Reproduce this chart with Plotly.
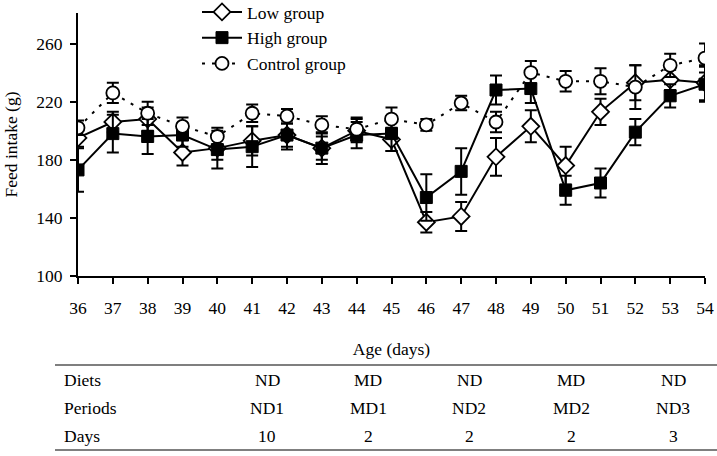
import plotly.graph_objects as go

days = list(range(36, 55))

low_mean = [195, 206, 208, 185, 188, 193, 197, 188, 200, 194, 137, 141, 182, 203, 176, 213, 233, 235, 233]
low_err = [6, 7, 8, 9, 8, 10, 8, 8, 8, 8, 7, 10, 13, 11, 13, 9, 12, 7, 12]

high_mean = [173, 198, 196, 197, 187, 189, 197, 188, 197, 198, 154, 172, 228, 229, 159, 164, 199, 224, 232]
high_err = [15, 13, 12, 8, 13, 14, 10, 11, 9, 12, 16, 16, 10, 10, 10, 10, 9, 8, 12]

ctrl_mean = [202, 226, 212, 203, 196, 212, 210, 204, 201, 208, 204, 219, 206, 240, 234, 234, 230, 245, 250]
ctrl_err = [5, 7, 8, 6, 6, 6, 5, 6, 8, 8, 4, 5, 7, 8, 7, 9, 15, 8, 10]

y_ticks = [100, 140, 180, 220, 260]

table_rows = ["Diets", "Periods", "Days"]
diets = ["ND", "MD", "ND", "MD", "ND"]
periods = ["ND1", "MD1", "ND2", "MD2", "ND3"]
period_days = ["10", "2", "2", "2", "3"]

FONT = "Liberation Serif"
W, H = 717, 456
ML, MR, MT, MB = 78, 12, 13, 180
PW = W - ML - MR
PH = H - MT - MB


def px_to_paper_x(px):
    return (px - ML) / PW


def px_to_paper_y(py):
    return (H - MB - py) / PH


fig = go.Figure()

err_style = dict(type="data", visible=True, thickness=2, width=6, color="black")

fig.add_trace(go.Scatter(
    x=days, y=low_mean, name="Low group", mode="lines+markers",
    line=dict(color="black", width=2),
    marker=dict(symbol="diamond", size=13, color="white", line=dict(color="black", width=1.8)),
    error_y=dict(array=low_err, **err_style),
))
fig.add_trace(go.Scatter(
    x=days, y=high_mean, name="High group", mode="lines+markers",
    line=dict(color="black", width=2),
    marker=dict(symbol="square", size=12, color="black", line=dict(color="black", width=1)),
    error_y=dict(array=high_err, **err_style),
))
fig.add_trace(go.Scatter(
    x=days, y=ctrl_mean, name="Control group", mode="lines+markers",
    line=dict(color="black", width=2, dash="3px,7px"),
    marker=dict(symbol="circle", size=13, color="white", line=dict(color="black", width=1.8)),
    error_y=dict(array=ctrl_err, **err_style),
))

# Table below the chart
col_px = [267, 368, 469, 571, 673]
row_py = [380, 408, 436]
row_values = [diets, periods, period_days]
ann = []
for r, (label, vals) in enumerate(zip(table_rows, row_values)):
    yp = px_to_paper_y(row_py[r])
    ann.append(dict(text=label, x=px_to_paper_x(62), y=yp, xref="paper", yref="paper",
                    xanchor="left", yanchor="middle", showarrow=False,
                    font=dict(family=FONT, size=17.5, color="black")))
    for c, v in enumerate(vals):
        ann.append(dict(text=v, x=px_to_paper_x(col_px[c]), y=yp, xref="paper", yref="paper",
                        xanchor="center", yanchor="middle", showarrow=False,
                        font=dict(family=FONT, size=17.5, color="black")))

shapes = []
for py in (365, 450):
    shapes.append(dict(type="line", xref="paper", yref="paper",
                       x0=px_to_paper_x(55), x1=px_to_paper_x(717),
                       y0=px_to_paper_y(py), y1=px_to_paper_y(py),
                       line=dict(color="#555555", width=1.5)))

fig.update_layout(
    width=W, height=H,
    margin=dict(l=ML, r=MR, t=MT, b=MB, autoexpand=False),
    plot_bgcolor="white", paper_bgcolor="white",
    font=dict(family=FONT, size=17.5, color="black"),
    showlegend=True,
    legend=dict(x=px_to_paper_x(197), y=px_to_paper_y(-6), xanchor="left", yanchor="top",
                bgcolor="rgba(0,0,0,0)", font=dict(family=FONT, size=17.5, color="black"),
                tracegroupgap=0, itemwidth=40),
    annotations=ann,
    shapes=shapes,
    xaxis=dict(
        range=[36, 54], tickmode="array", tickvals=days, ticktext=[str(d) for d in days],
        showline=True, linecolor="black", linewidth=2, ticks="outside", ticklen=6, tickwidth=2,
        tickcolor="black", showgrid=False, zeroline=False, ticklabelstandoff=9,
        title=dict(text="Age (days)", standoff=26, font=dict(family=FONT, size=17.5)),
        automargin=False,
    ),
    yaxis=dict(
        range=[100, 281], tickmode="array", tickvals=y_ticks,
        showline=True, linecolor="black", linewidth=2, ticks="outside", ticklen=6, tickwidth=2,
        tickcolor="black", showgrid=False, zeroline=False, ticklabelstandoff=4,
        title=dict(text="Feed intake (g)", standoff=14, font=dict(family=FONT, size=17.5)),
        automargin=False,
    ),
)

fig.write_html("out.html")
